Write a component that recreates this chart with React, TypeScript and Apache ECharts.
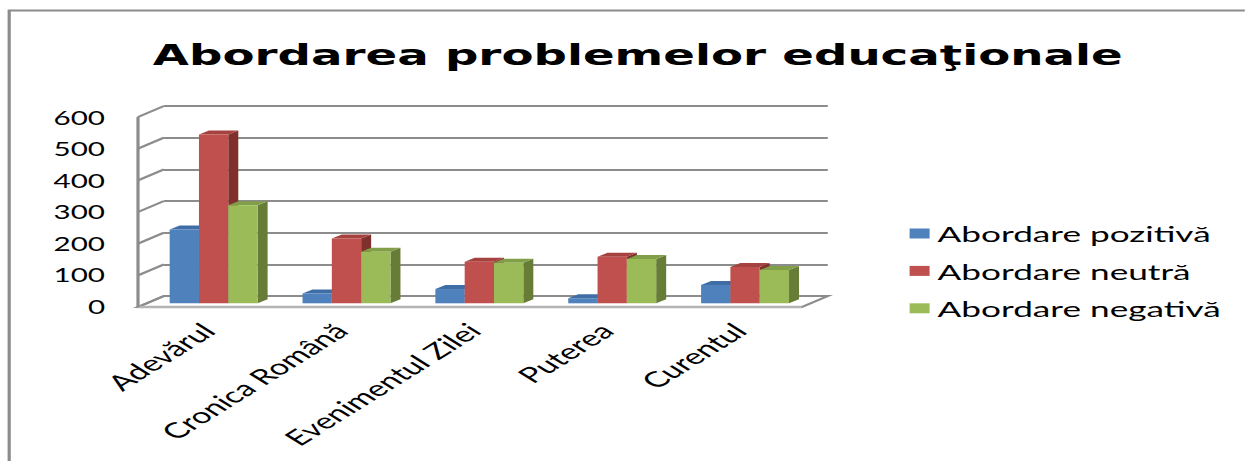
import React, { useEffect, useRef } from "react";
import * as echarts from "echarts";

// ---- data ----
const TITLE = "Abordarea problemelor educaţionale";
const CATEGORIES = ["Adevărul", "Cronica Română", "Evenimentul Zilei", "Puterea", "Curentul"];
const SERIES_NAMES = ["Abordare pozitivă", "Abordare neutră", "Abordare negativă"];
const POZITIVA = [233, 31, 45, 16, 58];
const NEUTRA = [533, 205, 131, 147, 115];
const NEGATIVA = [310, 163, 128, 140, 105];
const Y_TICKS = [0, 100, 200, 300, 400, 500, 600];

// ---- styles ----
const S = 1.6; // the reference is stretched horizontally
const W = 1245 / S;
const H = 461;
const FRONT = ["#4F81BD", "#C0504D", "#9BBB59"];
const TOP = ["#3F6DA6", "#A5423F", "#819E48"];
const SIDE = ["#385D8A", "#7F302D", "#667C37"];
const GRID_COLOR = "#8c8c8c";
const BAR_FRAC = 0.662;
const BAR_DX = 6.25;
const BAR_DY = -4;
const WALL_FDX = -16.25;
const WALL_FDY = 11;

export default function App() {
  const ref = useRef<HTMLDivElement>(null);
  useEffect(() => {
    if (!ref.current) return;
    const chart = echarts.init(ref.current, undefined, { renderer: "svg" });
    const seriesData = [POZITIVA, NEUTRA, NEGATIVA];

    const barSeries = seriesData.map((vals, idx) => ({
      type: "custom",
      name: SERIES_NAMES[idx],
      coordinateSystem: "cartesian2d",
      xAxisIndex: 0,
      yAxisIndex: 0,
      clip: false,
      z: 5,
      itemStyle: { color: FRONT[idx] },
      data: vals.map((v, i) => [i, v]),
      renderItem: (params: any, api: any) => {
        const cat = api.value(0);
        const v = api.value(1);
        const b = api.coord([cat, 0]);
        const t = api.coord([cat, v]);
        const band = api.size([1, 0])[0];
        const bw = (band * BAR_FRAC) / 3;
        const x0 = b[0] - 1.5 * bw + idx * bw;
        const x1 = x0 + bw;
        const yt = t[1];
        const yb = b[1];
        return {
          type: "group",
          children: [
            {
              type: "polygon",
              shape: { points: [[x1, yt], [x1 + BAR_DX, yt + BAR_DY], [x1 + BAR_DX, yb + BAR_DY], [x1, yb]] },
              style: { fill: SIDE[idx] },
            },
            {
              type: "polygon",
              shape: { points: [[x0, yt], [x1, yt], [x1 + BAR_DX, yt + BAR_DY], [x0 + BAR_DX, yt + BAR_DY]] },
              style: { fill: TOP[idx] },
            },
            {
              type: "rect",
              shape: { x: x0, y: yt, width: bw, height: yb - yt },
              style: { fill: FRONT[idx] },
            },
          ],
        };
      },
    }));

    const wallSeries = {
      type: "custom",
      coordinateSystem: "cartesian2d",
      xAxisIndex: 1,
      yAxisIndex: 1,
      clip: false,
      silent: true,
      z: 1,
      data: Y_TICKS.map((v) => [0, v]),
      renderItem: (params: any, api: any) => {
        const p = api.coord([0, api.value(1)]);
        const children: any[] = [
          {
            type: "line",
            shape: { x1: p[0], y1: p[1], x2: p[0] + WALL_FDX, y2: p[1] + WALL_FDY },
            style: { stroke: GRID_COLOR, lineWidth: 2 },
          },
        ];
        if (params.dataIndex === 0) {
          const bl = api.coord([0, 0]);
          const br = api.coord([1, 0]);
          const tl = api.coord([0, Y_TICKS[Y_TICKS.length - 1]]);
          children.unshift({
            type: "polygon",
            shape: {
              points: [
                [bl[0], bl[1]],
                [br[0], br[1]],
                [br[0] + WALL_FDX, br[1] + WALL_FDY],
                [bl[0] + WALL_FDX, bl[1] + WALL_FDY],
              ],
            },
            style: { fill: "#ffffff", stroke: GRID_COLOR, lineWidth: 2 },
          });
          children.push({
            type: "line",
            shape: { x1: bl[0] + WALL_FDX, y1: bl[1] + WALL_FDY, x2: br[0] + WALL_FDX, y2: br[1] + WALL_FDY },
            style: { stroke: "#b4b4b4", lineWidth: 2.5 },
          });
          children.push({
            type: "line",
            shape: { x1: tl[0] + WALL_FDX, y1: tl[1] + WALL_FDY, x2: bl[0] + WALL_FDX, y2: bl[1] + WALL_FDY },
            style: { stroke: GRID_COLOR, lineWidth: 2 },
          });
        }
        return { type: "group", children };
      },
    };

    chart.setOption({
      animation: false,
      backgroundColor: "#ffffff",
      title: {
        text: TITLE,
        left: 393.6,
        top: 35,
        textAlign: "center",
        textStyle: { fontFamily: "DejaVu Sans", fontWeight: "bold", fontSize: 29.2, color: "#000" },
      },
      legend: {
        orient: "vertical",
        left: 563.5,
        top: 217.5,
        icon: "rect",
        itemWidth: 12.5,
        itemHeight: 10,
        itemGap: 15.4,
        data: SERIES_NAMES,
        textStyle: { fontFamily: "Lato", fontSize: 22, lineHeight: 22, color: "#000" },
      },
      graphic: [
        {
          type: "rect",
          silent: true,
          z: -10,
          shape: { x: 5.75, y: 10.5, width: 2000, height: 1000 },
          style: { fill: "none", stroke: GRID_COLOR, lineWidth: 2 },
        },
      ],
      grid: [
        { left: 92, right: W - 507.3, top: 113.3, bottom: H - 303.3 },
        { left: 102.5, right: W - 517.5, top: 106, bottom: H - 296 },
        { left: 86.25, right: W - 503, top: 117.7, bottom: H - 306.7 },
      ],
      xAxis: [
        {
          type: "category",
          gridIndex: 0,
          data: CATEGORIES,
          axisLine: { show: false },
          axisTick: { show: false },
          axisLabel: {
            rotate: 45,
            margin: 20,
            interval: 0,
            padding: [0, 5, 0, 0],
            fontFamily: "Lato",
            fontSize: 21.5,
            color: "#000",
          },
        },
        { type: "value", gridIndex: 1, min: 0, max: 1, show: false },
        { type: "value", gridIndex: 2, min: 0, max: 1, show: false },
      ],
      yAxis: [
        { type: "value", gridIndex: 0, min: 0, max: 600, interval: 100, show: false },
        {
          type: "value",
          gridIndex: 1,
          min: 0,
          max: 600,
          interval: 100,
          axisLine: { show: false },
          axisTick: { show: false },
          axisLabel: { show: false },
          splitLine: { show: true, lineStyle: { color: GRID_COLOR, width: 2 } },
        },
        {
          type: "value",
          gridIndex: 2,
          min: 0,
          max: 600,
          interval: 100,
          axisLine: { show: false },
          axisTick: { show: false },
          splitLine: { show: false },
          axisLabel: { margin: 20.6, fontFamily: "Lato", fontSize: 18.5, color: "#000" },
        },
      ],
      series: [wallSeries, ...barSeries],
    });
    return () => chart.dispose();
  }, []);

  return (
    <div
      style={{
        position: "absolute",
        left: 0,
        top: 0,
        width: 1245,
        height: H,
        overflow: "hidden",
        background: "#fff",
      }}
    >
      <div
        ref={ref}
        style={{ width: W, height: H, transform: `scaleX(${S})`, transformOrigin: "0 0" }}
      />
    </div>
  );
}
